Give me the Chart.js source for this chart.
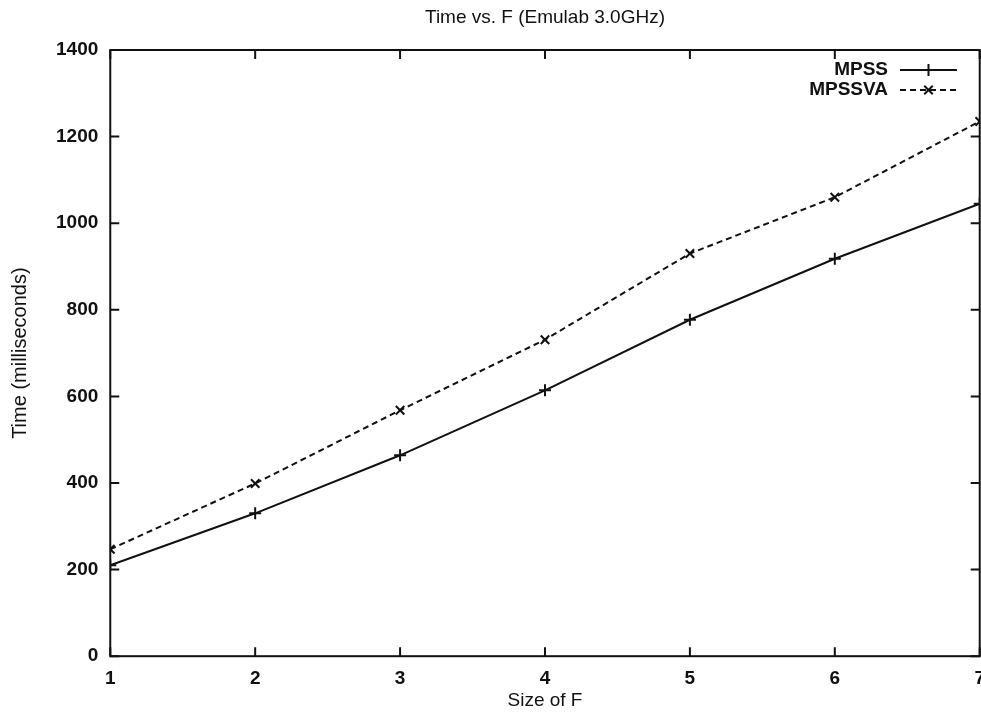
<!DOCTYPE html>
<html>
<head>
<meta charset="utf-8">
<script src="https://cdn.jsdelivr.net/npm/chart.js@4.4.1/dist/chart.umd.min.js"></script>
<style>
  html, body { margin: 0; padding: 0; background: #fff; overflow: hidden; }
  #wrap { width: 996px; height: 717px; }
</style>
</head>
<body>
<div id="wrap"><canvas id="chart" width="996" height="717"></canvas></div>
<script>
// valores
const sizesF = [1, 2, 3, 4, 5, 6, 7];
const mpss = [210, 330, 464, 614, 777, 918, 1045];
const mpssva = [247, 399, 568, 731, 930, 1060, 1235];
const xTicks = [1, 2, 3, 4, 5, 6, 7];
const yTicks = [0, 200, 400, 600, 800, 1000, 1200, 1400];
const titulo = 'Time vs. F (Emulab 3.0GHz)';
const tituloX = 'Size of F';
const tituloY = 'Time (milliseconds)';

const FONT = '"Liberation Sans", Arial, sans-serif';

// títulos centrados sobre el área del gráfico (como gnuplot)
const titlePlugin = {
  id: 'gpTitle',
  afterDraw(chart) {
    const { ctx, chartArea: a } = chart;
    const cx = (a.left + a.right) / 2;
    ctx.save();
    ctx.fillStyle = '#111';
    ctx.textAlign = 'center';
    ctx.textBaseline = 'middle';
    ctx.font = '19px ' + FONT;
    ctx.fillText(titulo, cx, 18);
    ctx.fillText(tituloX, cx, 701);
    ctx.restore();
  }
};

// ticks hacia dentro + marco en los 4 lados
const framePlugin = {
  id: 'frame',
  afterDraw(chart) {
    const { ctx, chartArea: a, scales } = chart;
    const len = 9;
    ctx.save();
    ctx.strokeStyle = '#111';
    ctx.lineWidth = 2;
    ctx.strokeRect(a.left, a.top, a.right - a.left, a.bottom - a.top);
    ctx.beginPath();
    xTicks.forEach(v => {
      const x = scales.x.getPixelForValue(v);
      ctx.moveTo(x, a.bottom); ctx.lineTo(x, a.bottom - len);
      ctx.moveTo(x, a.top); ctx.lineTo(x, a.top + len);
    });
    yTicks.forEach(v => {
      const y = scales.y.getPixelForValue(v);
      ctx.moveTo(a.left, y); ctx.lineTo(a.left + len, y);
      ctx.moveTo(a.right, y); ctx.lineTo(a.right - len, y);
    });
    ctx.stroke();
    ctx.restore();
  }
};

// leyenda dentro del área: texto a la izquierda, muestra a la derecha
const legendPlugin = {
  id: 'gpLegend',
  afterDraw(chart) {
    const { ctx } = chart;
    ctx.save();
    ctx.font = 'bold 19px ' + FONT;
    ctx.textAlign = 'right';
    ctx.textBaseline = 'middle';
    chart.data.datasets.forEach((ds, i) => {
      const y = 70 + i * 20;
      const x0 = 900, x1 = 957;
      ctx.fillStyle = '#111';
      ctx.fillText(ds.label, 888, y);
      ctx.strokeStyle = '#111';
      ctx.lineWidth = 2;
      ctx.setLineDash(ds.borderDash || []);
      ctx.beginPath();
      ctx.moveTo(x0, y); ctx.lineTo(x1, y);
      ctx.stroke();
      ctx.setLineDash([]);
      Chart.helpers.drawPoint(ctx, {
        pointStyle: ds.pointStyle, radius: 6, rotation: 0, borderWidth: 2
      }, (x0 + x1) / 2, y);
    });
    ctx.restore();
  }
};

new Chart(document.getElementById('chart'), {
  type: 'line',
  data: {
    datasets: [
      {
        label: 'MPSS',
        data: sizesF.map((x, i) => ({ x: x, y: mpss[i] })),
        borderColor: '#111',
        backgroundColor: '#111',
        borderWidth: 2,
        pointStyle: 'cross',
        pointRadius: 6,
        pointBorderWidth: 2,
        tension: 0
      },
      {
        label: 'MPSSVA',
        data: sizesF.map((x, i) => ({ x: x, y: mpssva[i] })),
        borderColor: '#111',
        backgroundColor: '#111',
        borderWidth: 2,
        borderDash: [6, 4],
        pointStyle: 'crossRot',
        pointRadius: 6,
        pointBorderWidth: 2,
        tension: 0
      }
    ]
  },
  options: {
    responsive: false,
    animation: false,
    devicePixelRatio: 1,
    layout: { padding: { top: 50, left: 10, right: 0, bottom: 16 } },
    plugins: {
      legend: { display: false },
      tooltip: { enabled: false },
      title: { display: false }
    },
    scales: {
      x: {
        type: 'linear',
        min: 1, max: 7,
        afterBuildTicks: s => { s.ticks = xTicks.map(v => ({ value: v })); },
        grid: { display: false, drawTicks: false },
        border: { display: false },
        ticks: { color: '#111', padding: 11, callback: v => String(v),
                 font: { family: FONT, size: 19, weight: 'bold' } },
        title: { display: false }
      },
      y: {
        min: 0, max: 1400,
        afterBuildTicks: s => { s.ticks = yTicks.map(v => ({ value: v })); },
        grid: { display: false, drawTicks: false },
        border: { display: false },
        ticks: { color: '#111', padding: 12, callback: v => String(v),
                 font: { family: FONT, size: 19, weight: 'bold' } },
        title: { display: true, text: tituloY, color: '#111', padding: { top: 0, bottom: 14 },
                 font: { family: FONT, size: 20, lineHeight: 1 } }
      }
    }
  },
  plugins: [framePlugin, legendPlugin, titlePlugin]
});
</script>
</body>
</html>
